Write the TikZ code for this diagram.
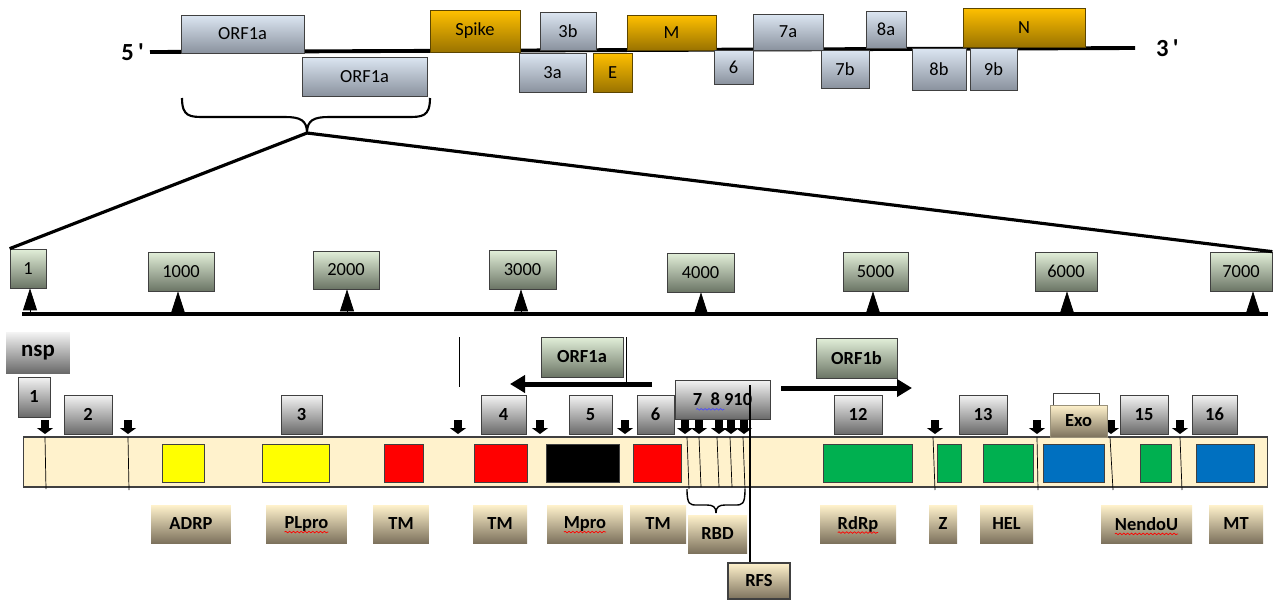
\documentclass[tikz,border=0pt]{standalone}
\usepackage{fontspec}
\setmainfont{Carlito}
\usetikzlibrary{arrows.meta,decorations.pathmorphing}

\definecolor{orftop}{HTML}{DCE6F2}
\definecolor{orfbot}{HTML}{8A929E}
\definecolor{goldtop}{HTML}{FFC000}
\definecolor{goldbot}{HTML}{9A7300}
\definecolor{scaletop}{HTML}{E2EFD9}
\definecolor{scalebot}{HTML}{6B7565}
\definecolor{nsptop}{HTML}{F4F4F4}
\definecolor{nspbot}{HTML}{6A6A6A}
\definecolor{lbltop}{HTML}{FFF2CC}
\definecolor{lblbot}{HTML}{7D725D}
\definecolor{barfill}{HTML}{FFF2CC}
\definecolor{domyellow}{HTML}{FFFF00}
\definecolor{domred}{HTML}{FF0000}
\definecolor{domgreen}{HTML}{00B050}
\definecolor{domblue}{HTML}{0070C0}
\definecolor{edge}{HTML}{404040}

\tikzset{
  orf/.style={draw=edge, top color=orftop, bottom color=orfbot, inner sep=0pt, font=\fontsize{10.5}{12}\selectfont},
  gold/.style={orf, draw=goldbot!60!black, top color=goldtop, bottom color=goldbot},
  scalebox/.style={orf, top color=scaletop, bottom color=scalebot},
  orfname/.style={scalebox, font=\fontsize{10.5}{12}\selectfont\bfseries},
  nsp/.style={orf, top color=nsptop, bottom color=nspbot, font=\fontsize{10.5}{12}\selectfont\bfseries},
  lbl/.style={inner sep=0pt, top color=lbltop, bottom color=lblbot, minimum height=0.76cm, font=\fontsize{10.5}{12}\selectfont\bfseries},
  dom/.style={draw=edge, line width=0.5pt, inner sep=0pt, minimum height=0.76cm},
  cut/.style={line width=0.17cm, -{Triangle[length=0.12cm,width=0.32cm]}},
  tick/.style={line width=0.4pt, -{Triangle[length=0.44cm,width=0.28cm]}},
  bigarrow/.style={line width=0.1cm, -{Triangle[length=0.3cm,width=0.34cm]}},
  spell/.style={decorate, decoration={snake, amplitude=0.45pt, segment length=2.2pt}, line width=0.4pt},
  endlabel/.style={font=\fontsize{14}{16}\selectfont\bfseries}
}

\begin{document}
\begin{tikzpicture}[x=0.02cm, y=-0.02cm]
\useasboundingbox (0,0) rectangle (1275,599);

% genome
\coordinate (g5) at (150,52);
\coordinate (g3) at (1135,48);
\draw [line width=2.2pt] (g5) -- (g3);
\node [endlabel, anchor=east] (five) at (g5) {5\,\textquotesingle};
\node [endlabel, anchor=west] (three) at ([xshift=0.3cm]g3) {3\,\textquotesingle};

\node [orf, minimum width=2.46cm, minimum height=0.76cm] (orf1a-top) at (242.5,34) {ORF1a};
\node [orf, minimum width=2.5cm, minimum height=0.78cm] (orf1a-bot) at (364.5,76.5) {ORF1a};
\node [gold, minimum width=1.8cm, minimum height=0.84cm] (spike) at (475,31) {Spike};
\node [orf, minimum width=1.12cm, minimum height=0.76cm] (o3b) at (568,31) {3b};
\node [orf, minimum width=1.34cm, minimum height=0.78cm] (o3a) at (552.5,72.5) {3a};
\node [gold, minimum width=0.78cm, minimum height=0.78cm] (e) at (612.5,72.5) {E};
\node [gold, minimum width=1.78cm, minimum height=0.7cm] (m) at (671.5,32.5) {M};
\node [orf, minimum width=0.78cm, minimum height=0.68cm] (o6) at (733.5,67) {6};
\node [orf, minimum width=1.4cm, minimum height=0.72cm] (o7a) at (788,32) {7a};
\node [orf, minimum width=0.96cm, minimum height=0.76cm] (o7b) at (845,69) {7b};
\node [orf, minimum width=0.8cm, minimum height=0.74cm] (o8a) at (886,29.5) {8a};
\node [orf, minimum width=1.08cm, minimum height=0.84cm] (o8b) at (939,69) {8b};
\node [gold, minimum width=2.44cm, minimum height=0.78cm] (n) at (1024,27.5) {N};
\node [orf, minimum width=0.94cm, minimum height=0.84cm] (o9b) at (993.5,69) {9b};

% brace and zoom lines
\coordinate (tip) at (307,133);
\draw [line width=1.2pt] (182,98) .. controls (182,117) and (190,117) .. (205,117) -- (285,117) .. controls (300,117) and (307,120) .. (tip);
\draw [line width=1.2pt] (430,98) .. controls (430,117) and (422,117) .. (407,117) -- (329,117) .. controls (314,117) and (307,120) .. (tip);

% scale
\node [scalebox, minimum width=0.72cm, minimum height=0.78cm] (s1) at (28,268.5) {1};
\node [scalebox, minimum width=1.32cm, minimum height=0.78cm] (s1000) at (181,271.5) {1000};
\node [scalebox, minimum width=1.32cm, minimum height=0.76cm] (s2000) at (346,270) {2000};
\node [scalebox, minimum width=1.34cm, minimum height=0.78cm] (s3000) at (522.5,269.5) {3000};
\node [scalebox, minimum width=1.34cm, minimum height=0.78cm] (s4000) at (700.5,272.5) {4000};
\node [scalebox, minimum width=1.3cm, minimum height=0.78cm] (s5000) at (875.5,271.5) {5000};
\node [scalebox, minimum width=1.24cm, minimum height=0.78cm] (s6000) at (1066,271.5) {6000};
\node [scalebox, minimum width=1.24cm, minimum height=0.78cm] (s7000) at (1241,271.5) {7000};

\draw [line width=1.8pt] (tip) -- (s1.north west);
\draw [line width=1.8pt] (tip) -- (s7000.north east);

\coordinate (ax-l) at (22,314);
\coordinate (ax-r) at (1268,314);
\draw [line width=2pt] (ax-l) -- (ax-r);
\coordinate (a1) at (30,314);
\coordinate (a1000) at (178,314);
\coordinate (a2000) at (347,314);
\coordinate (a3000) at (521,314);
\coordinate (a4000) at (701,314);
\coordinate (a5000) at (873,314);
\coordinate (a6000) at (1067,314);
\coordinate (a7000) at (1253,314);
\draw [tick] (a1) -- (a1 |- s1.south);
\draw [tick] (a1000) -- (a1000 |- s1000.south);
\draw [tick] (a2000) -- (a2000 |- s2000.south);
\draw [tick] (a3000) -- (a3000 |- s3000.south);
\draw [tick] (a4000) -- (a4000 |- s4000.south);
\draw [tick] (a5000) -- (a5000 |- s5000.south);
\draw [tick] (a6000) -- (a6000 |- s6000.south);
\draw [tick] (a7000) -- (a7000 |- s7000.south);

% ORF1a / ORF1b arrows
\draw [line width=0.4pt] (459,337) -- (459,387);
\node [orfname, minimum width=1.64cm, minimum height=0.8cm] (orf1a-lbl) at (582,357) {ORF1a};
\draw [line width=0.4pt] (626,337) -- (626,383);
\coordinate (orf1a-from) at (652,384);
\coordinate (orf1a-to) at (510,384);
\draw [bigarrow] (orf1a-from) -- (orf1a-to);
\node [orfname, minimum width=1.62cm, minimum height=0.8cm] (orf1b-lbl) at (856.5,358) {ORF1b};
\coordinate (orf1b-from) at (781,388);
\coordinate (orf1b-to) at (912,388);
\draw [bigarrow] (orf1b-from) -- (orf1b-to);

% nsp bar
\node [draw=edge, line width=0.6pt, fill=barfill, inner sep=0pt, minimum width=24.9cm, minimum height=1cm] (bar) at (645.5,462) {};

\node [dom, fill=domyellow, minimum width=0.84cm] (adrp-d) at (183,463) {};
\node [dom, fill=domyellow, minimum width=1.34cm] (plpro-d) at (295.5,463) {};
\node [dom, fill=domred, minimum width=0.78cm] (tm1-d) at (403.5,463) {};
\node [dom, fill=domred, minimum width=1.06cm] (tm2-d) at (500.5,463) {};
\node [dom, fill=black, minimum width=1.46cm] (mpro-d) at (582.5,463) {};
\node [dom, fill=domred, minimum width=0.96cm] (tm3-d) at (657,463) {};
\node [dom, fill=domgreen, minimum width=1.78cm] (rdrp-d) at (867.5,463) {};
\node [dom, fill=domgreen, minimum width=0.48cm] (z-d) at (949,463) {};
\node [dom, fill=domgreen, minimum width=1.0cm] (hel-d) at (1008,463) {};
\node [dom, fill=domblue, minimum width=1.22cm] (exo-d) at (1073.5,463) {};
\node [dom, fill=domgreen, minimum width=0.62cm] (nendou-d) at (1155.5,463) {};
\node [dom, fill=domblue, minimum width=1.16cm] (mt-d) at (1225,463) {};

\draw [line width=0.4pt] (45,437) -- (46,489);
\draw [line width=0.4pt] (128,437) -- (129,490);
\draw [line width=0.4pt] (687,437) -- (689,489);
\draw [line width=0.4pt] (699,437) -- (701,487);
\draw [line width=0.4pt] (717,437) -- (719,487);
\draw [line width=0.4pt] (730,437) -- (732,487);
\draw [line width=0.4pt] (743,437) -- (745,489);
\draw [line width=0.4pt] (933,437) -- (935,490);
\draw [line width=0.4pt] (1037,437) -- (1038,490);
\draw [line width=0.4pt] (1110,437) -- (1113,490);
\draw [line width=0.4pt] (1180,437) -- (1182,490);

% cleavage sites
\draw [cut] (45,420) -- (45,434);
\draw [cut] (128,420) -- (128,434);
\draw [cut] (458,420) -- (458,434);
\draw [cut] (540,420) -- (540,434);
\draw [cut] (625,420) -- (625,434);
\draw [cut] (685,420) -- (685,434);
\draw [cut] (699,420) -- (699,434);
\draw [cut] (719,420) -- (719,434);
\draw [cut] (731,420) -- (731,434);
\draw [cut] (744,420) -- (744,434);
\draw [cut] (935,420) -- (935,434);
\draw [cut] (1037,420) -- (1037,434);
\draw [cut] (1111,420) -- (1111,434);
\draw [cut] (1180,420) -- (1180,434);

% nsp numbers
\node [nsp, draw=none, minimum width=1.28cm, minimum height=0.82cm, font=\fontsize{13}{15}\selectfont\bfseries] (nsp) at (38,352.5) {nsp};
\node [nsp, minimum width=0.64cm, minimum height=0.8cm] (n1) at (34,397) {1};
\node [nsp, minimum width=0.96cm, minimum height=0.78cm] (n2) at (88,414.5) {2};
\node [nsp, minimum width=0.82cm, minimum height=0.78cm] (n3) at (301.5,414.5) {3};
\node [nsp, minimum width=0.9cm, minimum height=0.78cm] (n4) at (503.5,414.5) {4};
\node [nsp, minimum width=0.86cm, minimum height=0.78cm] (n5) at (590.5,414.5) {5};
\node [nsp, minimum width=0.74cm, minimum height=0.78cm] (n6) at (655.5,414.5) {6};
\node [nsp, minimum width=1.9cm, minimum height=0.78cm] (n7-10) at (722.5,399.5) {7\ \ 8 910};
\node [nsp, minimum width=0.96cm, minimum height=0.78cm] (n12) at (858,414.5) {12};
\node [nsp, minimum width=0.96cm, minimum height=0.78cm] (n13) at (983,414.5) {13};
\node [draw=edge, fill=white, inner sep=0pt, minimum width=0.92cm, minimum height=0.8cm] (n14) at (1076,413) {};
\node [lbl, draw=lbltop!60!black, line width=0.3pt, minimum width=1.14cm, minimum height=0.64cm] (exo) at (1078.5,421) {Exo};
\node [nsp, minimum width=0.96cm, minimum height=0.78cm] (n15) at (1144,414.5) {15};
\node [nsp, minimum width=0.9cm, minimum height=0.78cm] (n16) at (1214.5,414.5) {16};
\draw [spell, blue!70] ([xshift=-15pt,yshift=-2pt]n7-10.base) -- ([xshift=1pt,yshift=-2pt]n7-10.base);

% labels
\node [lbl, minimum width=1.6cm] (adrp) at (191,524) {ADRP};
\node [lbl, minimum width=1.62cm] (plpro) at (306.5,524) {PLpro};
\node [lbl, minimum width=1.12cm] (tm1) at (401,524) {TM};
\node [lbl, minimum width=1.08cm] (tm2) at (500,524) {TM};
\node [lbl, minimum width=1.52cm] (mpro) at (585,524) {Mpro};
\node [lbl, minimum width=1.12cm] (tm3) at (658,524) {TM};
\node [lbl, minimum width=1.18cm] (rbd) at (717.5,534) {RBD};
\node [lbl, draw=edge, line width=0.6pt, minimum width=1.24cm, minimum height=0.72cm] (rfs) at (759,581) {RFS};
\node [lbl, minimum width=1.52cm] (rdrp) at (858,524) {RdRp};
\node [lbl, minimum width=0.56cm] (z) at (943,524) {Z};
\node [lbl, minimum width=1.06cm] (hel) at (1006.5,524) {HEL};
\node [lbl, minimum width=1.82cm] (nendou) at (1146.5,524) {NendoU};
\node [lbl, minimum width=1.08cm] (mt) at (1236,524) {MT};

\draw [spell, red] ([xshift=-12.5pt,yshift=-2pt]plpro.base) -- ([xshift=12.5pt,yshift=-2pt]plpro.base);
\draw [spell, red] ([xshift=-12pt,yshift=-2pt]mpro.base) -- ([xshift=12pt,yshift=-2pt]mpro.base);
\draw [spell, red] ([xshift=-11.5pt,yshift=-2pt]rdrp.base) -- ([xshift=11.5pt,yshift=-2pt]rdrp.base);
\draw [spell, red] ([xshift=-18pt,yshift=-2pt]nendou.base) -- ([xshift=18pt,yshift=-2pt]nendou.base);

% RBD brace and RFS
\coordinate (rbd-tip) at (716,513);
\draw [line width=0.8pt] (687,489) .. controls (687,505) and (690,505) .. (697,505) -- (707,505) .. controls (713,505) and (716,507) .. (rbd-tip);
\draw [line width=0.8pt] (745,489) .. controls (745,505) and (742,505) .. (735,505) -- (725,505) .. controls (719,505) and (716,507) .. (rbd-tip);
\coordinate (rfs-top) at (750,385);
\draw [line width=1.6pt] (rfs-top) -- (rfs-top |- rfs.north);
\end{tikzpicture}
\end{document}
